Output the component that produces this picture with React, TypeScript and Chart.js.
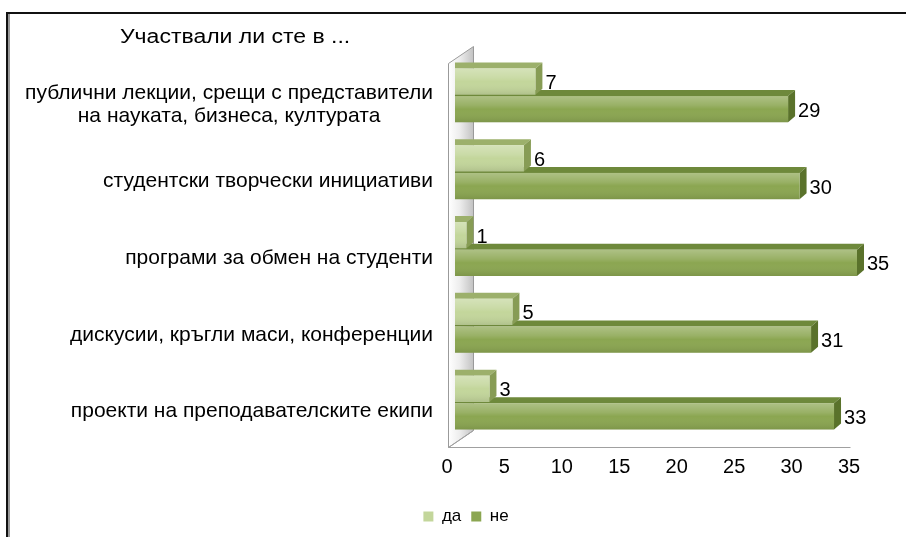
import React, { useEffect, useRef } from "react";
import { Chart, registerables } from "chart.js";

Chart.register(...registerables);

// ---------- data ----------
const categories: (string | string[])[] = [
  ["публични лекции, срещи с представители", "на науката, бизнеса, културата"],
  "студентски творчески инициативи",
  "програми за обмен на студенти",
  "дискусии, кръгли маси, конференции",
  "проекти на преподавателските екипи",
];
const seriesNames = ["да", "не"];
const yesValues = [7, 6, 1, 5, 3];
const noValues = [29, 30, 35, 31, 33];
const xMin = 0;
const xMax = 35;
const xStep = 5;
const titleText = "Участвали ли сте в ...";

// ---------- style ----------
const FONT = "'Liberation Sans', Arial, sans-serif";
const DX = 7;
const DY = 6;
const faces = [
  { front: "#c3d69b", top: "#9cb06b", side: "#879c55" },
  { front: "#8ba651", top: "#6e893b", side: "#5a722b" },
];

const threeD = {
  id: "threeD",
  beforeDatasetsDraw(chart: any) {
    const { ctx, chartArea: a, scales } = chart;
    const x0 = Math.round(a.left - 7) + 0.5;
    const yF = Math.round(a.bottom + 6) + 0.5;
    const yT = Math.round(a.top + 6) + 0.5;
    const ddx = 25;
    const ddy = 17;
    ctx.save();
    // back wall
    const g = ctx.createLinearGradient(x0, 0, x0 + ddx, 0);
    g.addColorStop(0, "#ffffff");
    g.addColorStop(0.45, "#ededed");
    g.addColorStop(1, "#c2c2c2");
    ctx.beginPath();
    ctx.moveTo(x0, yF);
    ctx.lineTo(x0, yT);
    ctx.lineTo(x0 + ddx, yT - ddy);
    ctx.lineTo(x0 + ddx, yF - ddy);
    ctx.closePath();
    ctx.fillStyle = g;
    ctx.fill();
    ctx.strokeStyle = "#9a9a9a";
    ctx.lineWidth = 1;
    ctx.stroke();
    // floor
    const xEnd = Math.round(scales.x.getPixelForValue(xMax) - 7) + 0.5;
    ctx.beginPath();
    ctx.moveTo(x0, yF);
    ctx.lineTo(xEnd, yF);
    ctx.moveTo(x0, yF);
    ctx.lineTo(x0 + ddx, yF - ddy);
    ctx.strokeStyle = "#a0a0a0";
    ctx.stroke();
    ctx.restore();
  },
  beforeDatasetDraw(chart: any, args: any) {
    const { ctx } = chart;
    const f = faces[args.index];
    ctx.save();
    for (const el of args.meta.data) {
      const { x, y, base, height } = el.getProps(["x", "y", "base", "height"], true);
      const top = y - height / 2;
      const bot = y + height / 2;
      // top face
      ctx.beginPath();
      ctx.moveTo(base, top);
      ctx.lineTo(base, top - DY);
      ctx.lineTo(x + DX, top - DY);
      ctx.lineTo(x, top);
      ctx.closePath();
      ctx.fillStyle = f.top;
      ctx.fill();
      // side face
      ctx.beginPath();
      ctx.moveTo(x, top);
      ctx.lineTo(x + DX, top - DY);
      ctx.lineTo(x + DX, bot - DY);
      ctx.lineTo(x, bot);
      ctx.closePath();
      ctx.fillStyle = f.side;
      ctx.fill();
    }
    ctx.restore();
  },
  afterDatasetDraw(chart: any, args: any) {
    const { ctx } = chart;
    ctx.save();
    for (const el of args.meta.data) {
      const { x, y, base, height } = el.getProps(["x", "y", "base", "height"], true);
      const top = y - height / 2;
      const g = ctx.createLinearGradient(0, top, 0, top + height);
      g.addColorStop(0, "rgba(255,255,255,0.30)");
      g.addColorStop(0.35, "rgba(255,255,255,0.12)");
      g.addColorStop(0.5, "rgba(255,255,255,0)");
      g.addColorStop(1, "rgba(0,0,0,0.10)");
      ctx.fillStyle = g;
      ctx.fillRect(base, top, x - base, height);
    }
    ctx.restore();
  },
  afterDatasetsDraw(chart: any) {
    const { ctx, chartArea: a, scales } = chart;
    ctx.save();
    // value labels
    ctx.font = `20px ${FONT}`;
    ctx.fillStyle = "#000";
    ctx.textAlign = "left";
    ctx.textBaseline = "middle";
    chart.data.datasets.forEach((ds: any, di: number) => {
      const meta = chart.getDatasetMeta(di);
      meta.data.forEach((el: any, i: number) => {
        const { x, y } = el.getProps(["x", "y"], true);
        ctx.fillText(String(ds.data[i]), x + DX + 3, y + 2);
      });
    });
    // category labels (multi-line centred, block right-aligned)
    const xr = a.left - 22;
    const lh = 23;
    ctx.font = `21px ${FONT}`;
    ctx.textAlign = "center";
    (chart.data.labels as any[]).forEach((lab, i) => {
      const lines: string[] = Array.isArray(lab) ? lab : [lab];
      const w = Math.max(...lines.map((l) => ctx.measureText(l).width));
      const yc = scales.y.getPixelForTick(i) + 9;
      lines.forEach((l, j) => {
        ctx.fillText(l, xr - w / 2, yc + (j - (lines.length - 1) / 2) * lh);
      });
    });
    ctx.restore();
  },
};

export default function App() {
  const ref = useRef<HTMLCanvasElement>(null);
  useEffect(() => {
    if (!ref.current) return;
    const chart = new Chart(ref.current, {
      type: "bar",
      data: {
        labels: categories as any,
        datasets: [
          {
            label: seriesNames[0],
            data: yesValues,
            backgroundColor: faces[0].front,
            borderWidth: 0,
            categoryPercentage: 0.72,
            barPercentage: 0.95,
          },
          {
            label: seriesNames[1],
            data: noValues,
            backgroundColor: faces[1].front,
            borderWidth: 0,
            categoryPercentage: 0.72,
            barPercentage: 0.95,
          },
        ],
      },
      options: {
        indexAxis: "y",
        responsive: false,
        animation: false,
        layout: { padding: { left: 75, right: 49, top: 57, bottom: 2 } },
        scales: {
          x: {
            min: xMin,
            max: xMax,
            grid: { display: false, drawTicks: false },
            border: { display: false },
            ticks: {
              stepSize: xStep,
              padding: 14,
              labelOffset: -8,
              color: "#000",
              font: { family: FONT, size: 20 },
            },
            afterFit: (s: any) => {
              s.height = 57;
            },
          },
          y: {
            grid: { display: false, drawTicks: false },
            border: { display: false },
            ticks: { display: false },
            afterFit: (s: any) => {
              s.width = 380;
            },
          },
        },
        plugins: {
          legend: {
            position: "bottom",
            labels: {
              color: "#000",
              font: { family: FONT, size: 17 },
              boxWidth: 10,
              boxHeight: 10,
              padding: 10,
            },
          },
          tooltip: { enabled: false },
          title: { display: false },
        },
      },
      plugins: [threeD],
    });
    return () => chart.destroy();
  }, []);

  return (
    <div
      style={{
        position: "fixed",
        left: 0,
        top: 0,
        width: 906,
        height: 537,
        background: "#fff",
        overflow: "hidden",
      }}
    >
      <canvas ref={ref} width={906} height={537} style={{ position: "absolute", left: 0, top: 0 }} />
      <div
        style={{
          position: "absolute",
          left: 6,
          top: 12,
          width: 2000,
          height: 2000,
          borderLeft: "2px solid #111",
          borderTop: "2px solid #111",
          boxShadow: "inset 2px 0 0 #999",
          pointerEvents: "none",
        }}
      />
      <div
        style={{
          position: "absolute",
          left: 120,
          top: 25,
          font: `20px ${FONT}`,
          color: "#000",
          whiteSpace: "nowrap",
          transform: "scaleX(1.15)",
          transformOrigin: "left top",
        }}
      >
        {titleText}
      </div>
    </div>
  );
}
